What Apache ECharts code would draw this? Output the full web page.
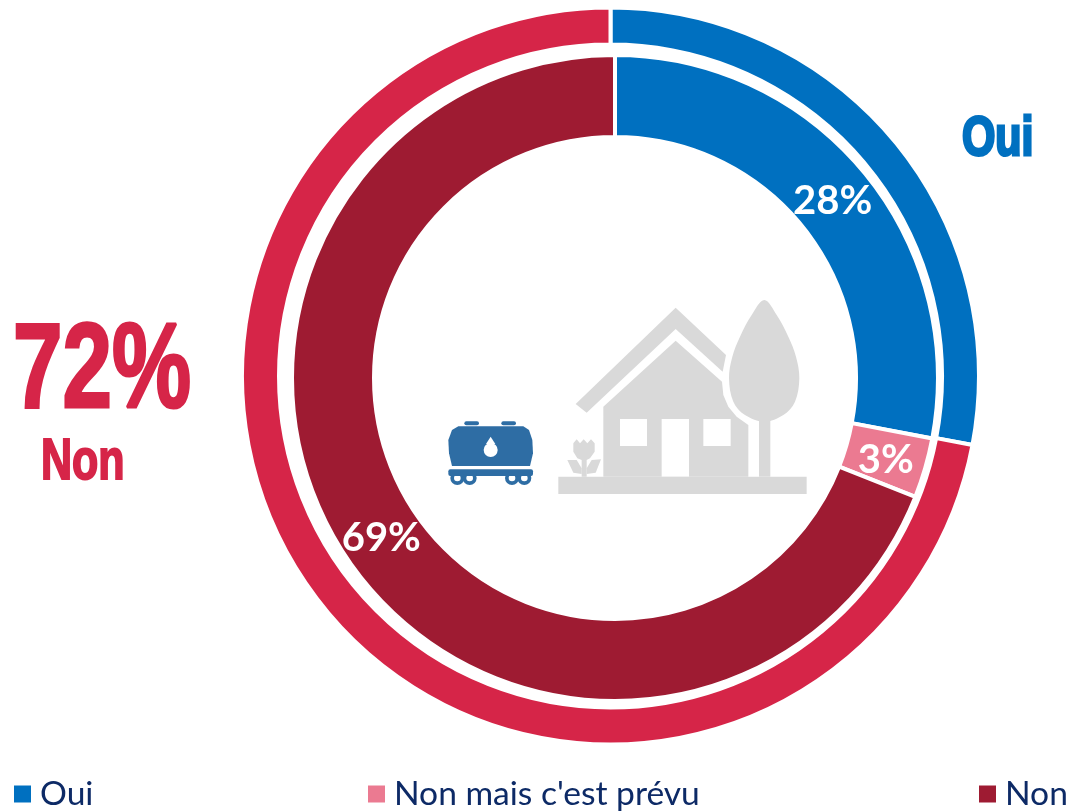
<!DOCTYPE html>
<html><head><meta charset="utf-8">
<style>html,body{margin:0;padding:0;background:#fff}#c{width:1068px;height:812px}</style>
<script src="https://cdn.jsdelivr.net/npm/echarts@6/dist/echarts.min.js"></script>
</head><body><div id="c"></div>
<script>
const innerNames = ['Oui', "Non mais c'est prévu", 'Non'];
const innerValues = [28, 3, 69];
const outerNames = ['Oui', 'Non'];
const outerValues = [28, 72];
const BLUE='#0070C0', PINK='#EB7A91', DARK='#9E1B32', RED='#D62548', GREY='#D9D9D9', TRAIN='#2E6DA4', NAVY='#0D2A66';
const innerColors = [BLUE, PINK, DARK];
const outerColors = [BLUE, RED];
const labelNudges = [[-2,5],[-3,3],[2,0]];

const X=v=>430+v/3, Y=v=>280+v/3;
const poly=(pts,fill,smooth=0,z=5)=>({type:'polygon',z,silent:true,shape:{smooth,points:pts.map(p=>[X(p[0]),Y(p[1])])},style:{fill}});
const rect=(x0,y0,x1,y1,fill,r=0,z=5)=>({type:'rect',z,silent:true,shape:{x:X(x0),y:Y(y0),width:(x1-x0)/3,height:(y1-y0)/3,r},style:{fill}});
const circ=(x,y,r,fill,z=5)=>({type:'circle',z,silent:true,shape:{cx:X(x),cy:Y(y),r:r/3},style:{fill}});
const bigText=(text,x,y,size,sx,fill,sw)=>({type:'text',z:6,silent:true,x,y,scaleX:sx,
  style:{text,x:0,y:0,fill,stroke:fill,lineWidth:sw,font:`bold ${size}px "Liberation Sans"`,textVerticalAlign:'top',textBaseline:'top'}});

const icons=[
  // roof
  poly([[437,372],[737,83],[888,225],[878,275],[737,147],[470,398]],GREY),
  // house body
  poly([[520,380],[737,182],[876,305],[880,345],[895,380],[920,410],[955,435],[955,590],[520,590]],GREY),
  rect(570,417,651,498,'#fff'), rect(820,417,902,498,'#fff'), rect(695,417,777,590,'#fff'),
  // tree
  poly([[1003,60],[1040,105],[1075,170],[1098,230],[1108,295],[1095,365],[1060,405],[1003,425],[945,405],[910,365],[897,295],[907,230],[930,170],[965,105]],GREY,0.35),
  rect(987,415,1021,590,GREY),
  // ground
  rect(385,590,1130,642,GREY),
  // flower
  poly([[430,490],[440,478],[450,490],[461,478],[472,490],[483,478],[494,490],[494,515],[480,535],[470,540],[470,590],[455,590],[455,540],[442,535],[430,515]],GREY),
  poly([[412,540],[440,540],[455,565],[455,582],[430,578]],GREY),
  poly([[513,538],[485,540],[470,565],[470,582],[497,578]],GREY),
  // tank wagon
  rect(103,424,147,436,TRAIN,3), rect(214,424,258,436,TRAIN,3),
  poly([[85,439],[280,439],[297,450],[307,480],[309,520],[300,558],[66,558],[57,520],[55,480],[66,450]],TRAIN),
  rect(55,568,309,588,TRAIN,2),
  circ(82,594,21,TRAIN), circ(119,594,21,TRAIN), circ(246,594,21,TRAIN), circ(283,594,21,TRAIN),
  circ(82,594,10,'#fff'), circ(119,594,10,'#fff'), circ(246,594,10,'#fff'), circ(283,594,10,'#fff'),
  rect(61,570,140,588,TRAIN), rect(225,570,304,588,TRAIN),
  circ(182,510,21,'#fff'),
  poly([[182,470],[196,492],[168,492]],'#fff')
];
const texts=[
  bigText('72%',13,313,121,0.735,RED,3),
  bigText('Non',41,435,57,0.755,RED,2),
  bigText('Oui',962,112,55,0.78,BLUE,3)
];
const legendItem=(name,left)=>({data:[name],left,top:777,itemWidth:17,itemHeight:17,padding:0,
  itemStyle:{borderWidth:0},
  textStyle:{color:NAVY,fontSize:33.6,fontFamily:'Lato',padding:[0,0,0,4]},icon:'rect',selectedMode:false});

const border={borderColor:'#fff',borderWidth:4};
const chart=echarts.init(document.getElementById('c'),null,{renderer:'canvas'});
chart.setOption({
  animation:false,
  backgroundColor:'#fff',
  legend:[legendItem('Oui',14),legendItem("Non mais c'est prévu",368),legendItem('Non',979)],
  series:[
    {type:'pie',center:[615,378],radius:[241,323],startAngle:90,silent:true,
     label:{show:true,position:'inside',formatter:'{c}%',color:'#fff',fontSize:40,fontWeight:'bold',fontFamily:'Lato'},
     labelLine:{show:false},itemStyle:border,
     data:innerNames.map((name,i)=>({name,value:innerValues[i],itemStyle:{color:innerColors[i]},label:{offset:labelNudges[i]}}))},
    {type:'pie',center:[610.5,376],radius:[331.5,368.5],startAngle:90,silent:true,
     label:{show:false},labelLine:{show:false},itemStyle:border,
     data:outerNames.map((name,i)=>({name,value:outerValues[i],itemStyle:{color:outerColors[i]}}))}
  ],
  graphic:{elements:[...icons,...texts]}
});
</script></body></html>
